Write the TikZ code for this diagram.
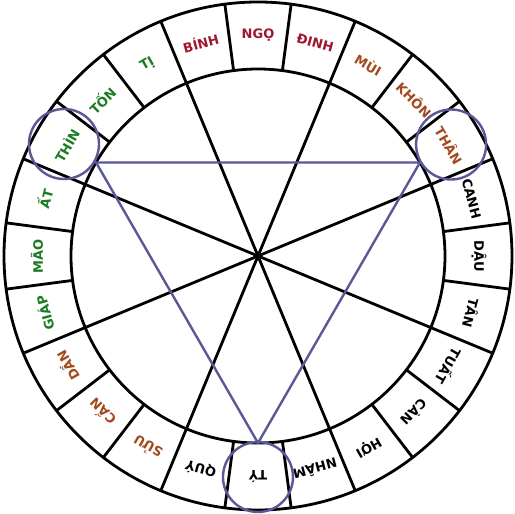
\documentclass[tikz,border=0pt]{standalone}
\usepackage{fontspec}
\setmainfont{DejaVu Sans}
\usetikzlibrary{positioning}

\definecolor{lyred}{HTML}{A0182E}
\definecolor{earthbrown}{HTML}{A34A1C}
\definecolor{woodgreen}{HTML}{1B7A22}
\definecolor{ringblue}{HTML}{5B5897}

\tikzset{
	ringline/.style={line width=2.8pt, black},
	mark circle/.style={draw=ringblue, line width=2.4pt, circle, minimum size=70pt, inner sep=0pt},
	triline/.style={draw=ringblue, line width=2.4pt, line join=round},
	sonlabel/.style={font=\fontsize{13}{13}\selectfont\bfseries, inner sep=0pt}
}

\begin{document}
\begin{tikzpicture}[x=1pt, y=1pt]
	\useasboundingbox (-258pt,-258pt) rectangle (257pt,256pt);
	\fill[white] (-258pt,-258pt) rectangle (257pt,256pt);

	% spokes through the centre
	\foreach \k in {0,...,7}
		\draw[ringline] (0,0) -- ({22.5+45*\k}:187pt);

	% ring
	\draw[ringline] (0,0) circle (254pt);
	\draw[ringline] (0,0) circle (187pt);
	\foreach \k in {0,...,23}
		\draw[ringline] ({97.5-15*\k}:187pt) -- ({97.5-15*\k}:254pt);

	% the 24 mountains
	\foreach \name/\col [count=\i from 0] in {NGỌ/lyred, ĐINH/lyred, MÙI/earthbrown, KHÔN/earthbrown, THÂN/earthbrown, CANH/black, DẬU/black, TÂN/black, TUẤT/black, CÀN/black, HỢI/black, NHÂM/black, TÝ/black, QUÝ/black, SỬU/earthbrown, CẤN/earthbrown, DẦN/earthbrown, GIÁP/woodgreen, MÃO/woodgreen, ẤT/woodgreen, THÌN/woodgreen, TỐN/woodgreen, TỊ/woodgreen, BÍNH/lyred}
		\node[sonlabel, text=\col, rotate={-15*\i}] (m\i) at ({90-15*\i}:221pt) {\name};

	% tam hop
	\coordinate (thin) at (150:187pt);
	\coordinate (than) at (30:187pt);
	\coordinate (ty) at (-90:187pt);
	\draw[triline] (thin) -- (than) -- (ty) -- cycle;

	\node[mark circle] (cthin) at (150:224pt) {};
	\node[mark circle] (cthan) at (30:223pt) {};
	\node[mark circle] (cty) at (-90:221pt) {};

\end{tikzpicture}
\end{document}
